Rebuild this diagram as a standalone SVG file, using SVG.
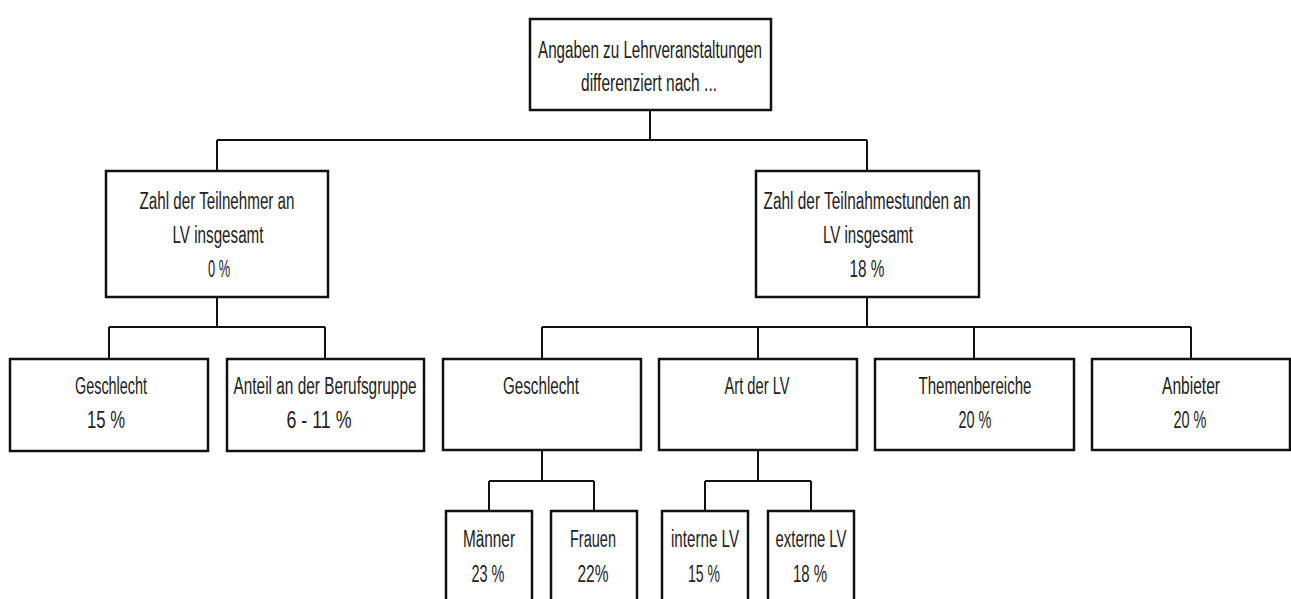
<svg xmlns="http://www.w3.org/2000/svg" width="1291" height="599" viewBox="0 0 1291 599">
<style>
rect{fill:#fff;stroke:#111;stroke-width:2.5}
text{font-family:"Liberation Sans",Arial,sans-serif;font-size:23px;fill:#222;text-anchor:middle}
.c{fill:none;stroke:#111;stroke-width:2}
</style>
<rect x="0" y="0" width="1291" height="599" style="stroke:none"/>
<g id="connectors">
<path class="c" d="M650,110V140M217,140H867M217,140V171M867,140V171"/>
<path class="c" d="M217,297V327M109,327H325M109,327V359M325,327V359"/>
<path class="c" d="M867,297V327M542,327H1191M542,327V359M758,327V359M974,327V359M1191,327V359"/>
<path class="c" d="M542,450V481M489,481H594M489,481V511M594,481V511"/>
<path class="c" d="M758,450V481M705,481H811M705,481V511M811,481V511"/>
</g>
<g id="n-top"><rect x="530" y="19" width="241" height="91"/>
<text x="650" y="58" font-size="23" textLength="224" lengthAdjust="spacingAndGlyphs">Angaben zu Lehrveranstaltungen</text>
<text x="649" y="91" font-size="23" textLength="136" lengthAdjust="spacingAndGlyphs">differenziert nach ...</text></g>
<g id="n-teilnehmer"><rect x="106" y="171" width="222" height="126"/>
<text x="217" y="209" font-size="23" textLength="155" lengthAdjust="spacingAndGlyphs">Zahl der Teilnehmer an</text>
<text x="218" y="243" font-size="23" textLength="91" lengthAdjust="spacingAndGlyphs">LV insgesamt</text>
<text x="219" y="277" font-size="23" textLength="22" lengthAdjust="spacingAndGlyphs">0 %</text></g>
<g id="n-stunden"><rect x="756" y="171" width="223" height="126"/>
<text x="867" y="209" font-size="23" textLength="207" lengthAdjust="spacingAndGlyphs">Zahl der Teilnahmestunden an</text>
<text x="868" y="243" font-size="23" textLength="90" lengthAdjust="spacingAndGlyphs">LV insgesamt</text>
<text x="867" y="277" font-size="23" textLength="35" lengthAdjust="spacingAndGlyphs">18 %</text></g>
<g id="n-geschlecht1"><rect x="10" y="359" width="198" height="92"/>
<text x="111" y="394" font-size="23" textLength="72" lengthAdjust="spacingAndGlyphs">Geschlecht</text>
<text x="106" y="428" font-size="23" textLength="38" lengthAdjust="spacingAndGlyphs">15 %</text></g>
<g id="n-anteil"><rect x="227" y="359" width="197" height="92"/>
<text x="325" y="394" font-size="23" textLength="183" lengthAdjust="spacingAndGlyphs">Anteil an der Berufsgruppe</text>
<text x="319" y="428" font-size="23" textLength="65" lengthAdjust="spacingAndGlyphs">6 - 11 %</text></g>
<g id="n-geschlecht2"><rect x="443" y="359" width="198" height="91"/>
<text x="541" y="394" font-size="23" textLength="76" lengthAdjust="spacingAndGlyphs">Geschlecht</text></g>
<g id="n-art"><rect x="659" y="359" width="198" height="91"/>
<text x="757" y="394" font-size="23" textLength="65" lengthAdjust="spacingAndGlyphs">Art der LV</text></g>
<g id="n-themen"><rect x="875" y="359" width="199" height="91"/>
<text x="975" y="394" font-size="23" textLength="113" lengthAdjust="spacingAndGlyphs">Themenbereiche</text>
<text x="975" y="428" font-size="23" textLength="33" lengthAdjust="spacingAndGlyphs">20 %</text></g>
<g id="n-anbieter"><rect x="1092" y="359" width="198" height="91"/>
<text x="1191" y="394" font-size="23" textLength="58" lengthAdjust="spacingAndGlyphs">Anbieter</text>
<text x="1190" y="428" font-size="23" textLength="33" lengthAdjust="spacingAndGlyphs">20 %</text></g>
<g id="n-maenner"><rect x="446" y="511" width="86" height="110"/>
<text x="489" y="547" font-size="23" textLength="52" lengthAdjust="spacingAndGlyphs">Männer</text>
<text x="488" y="582" font-size="23" textLength="33" lengthAdjust="spacingAndGlyphs">23 %</text></g>
<g id="n-frauen"><rect x="551" y="511" width="86" height="110"/>
<text x="593" y="547" font-size="23" textLength="46" lengthAdjust="spacingAndGlyphs">Frauen</text>
<text x="593" y="582" font-size="23" textLength="31" lengthAdjust="spacingAndGlyphs">22%</text></g>
<g id="n-interne"><rect x="662" y="511" width="86" height="110"/>
<text x="705" y="547" font-size="23" textLength="68" lengthAdjust="spacingAndGlyphs">interne LV</text>
<text x="704" y="582" font-size="23" textLength="32" lengthAdjust="spacingAndGlyphs">15 %</text></g>
<g id="n-externe"><rect x="768" y="511" width="86" height="110"/>
<text x="811" y="547" font-size="23" textLength="71" lengthAdjust="spacingAndGlyphs">externe LV</text>
<text x="810" y="582" font-size="23" textLength="34" lengthAdjust="spacingAndGlyphs">18 %</text></g>
</svg>
